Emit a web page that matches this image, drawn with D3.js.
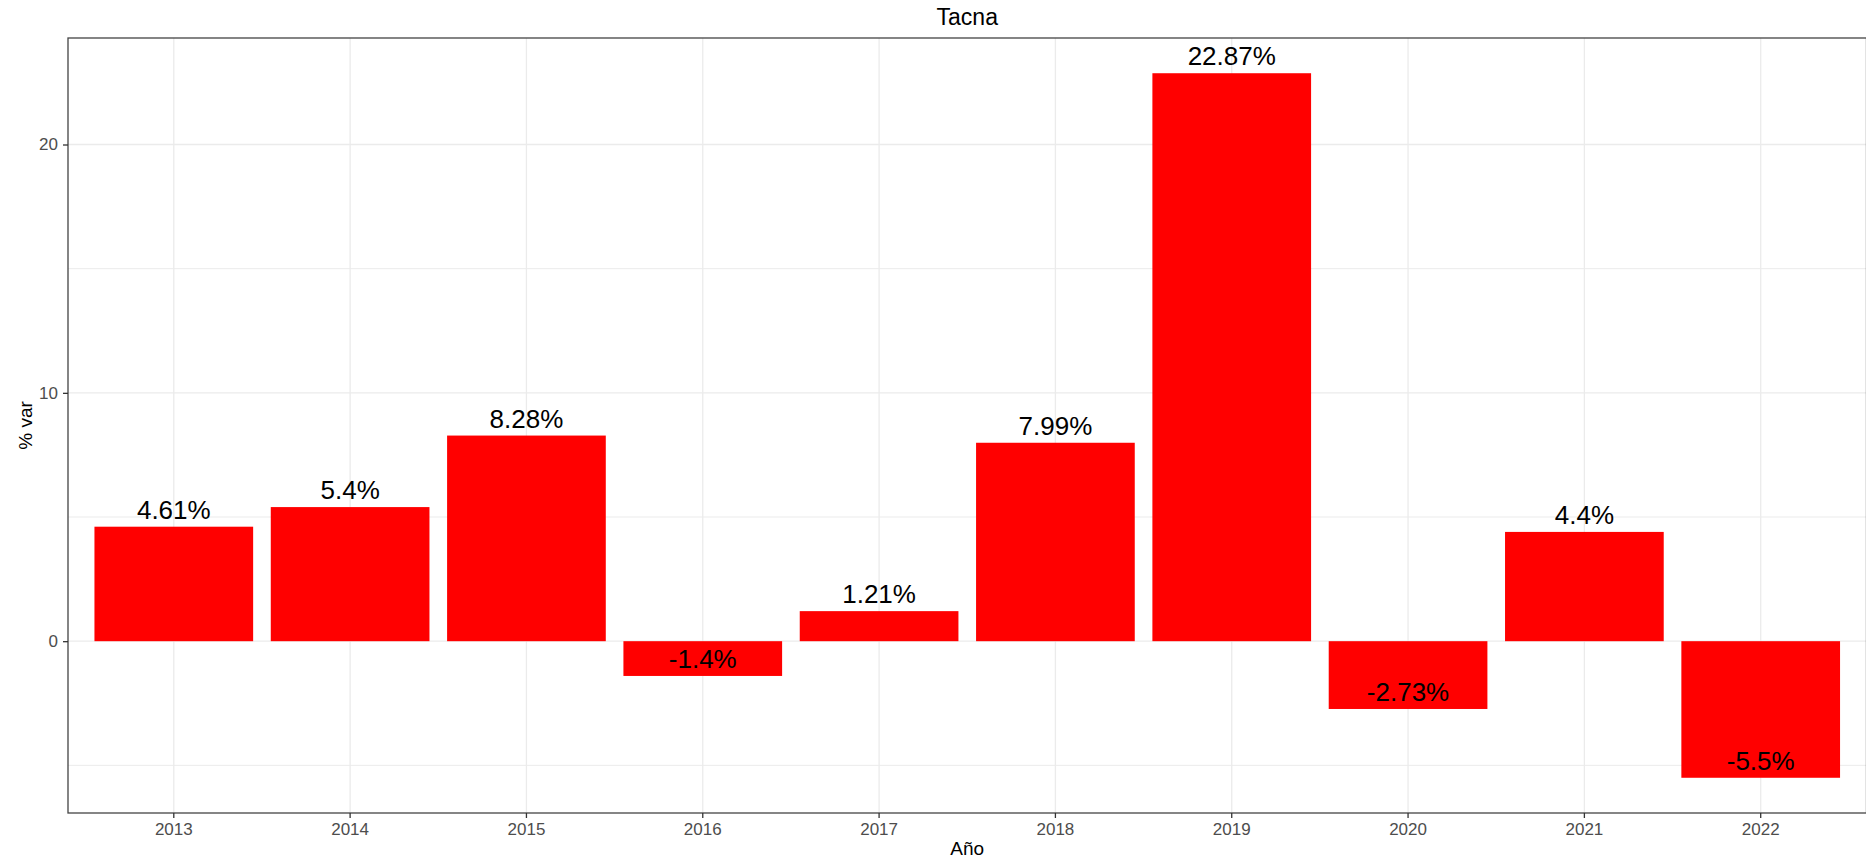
<!DOCTYPE html>
<html>
<head>
<meta charset="utf-8">
<script src="https://cdn.jsdelivr.net/npm/d3@7"></script>
<style>
  html, body { margin: 0; padding: 0; background: #fff; }
  svg { display: block; font-family: "Liberation Sans", Arial, sans-serif; }
</style>
</head>
<body>
<svg id="chart" width="1866" height="861"></svg>
<script>
const categories = ["2013","2014","2015","2016","2017","2018","2019","2020","2021","2022"];
const values = [4.61, 5.4, 8.28, -1.4, 1.21, 7.99, 22.87, -2.73, 4.4, -5.5];
const labels = ["4.61%","5.4%","8.28%","-1.4%","1.21%","7.99%","22.87%","-2.73%","4.4%","-5.5%"];
const yMajorTicks = [0, 10, 20];
const yMinorTicks = [-5, 5, 15];
const chartTitle = "Tacna";
const xTitle = "Año";
const yTitle = "% var";

const svg = d3.select("#chart");
const pLeft = 68, pRight = 1866.5, pTop = 38, pBottom = 813;

const dmin = d3.min(values), dmax = d3.max(values);
const pad = (dmax - dmin) * 0.05;
const y = d3.scaleLinear().domain([dmin - pad, dmax + pad]).range([pBottom, pTop]);
const x = d3.scaleBand().domain(categories).range([pLeft, pRight]).paddingInner(0.1).paddingOuter(0.15);

const grid = svg.append("g");
grid.selectAll(".minor").data(yMinorTicks).join("line")
  .attr("x1", pLeft).attr("x2", pRight)
  .attr("y1", d => y(d)).attr("y2", d => y(d))
  .attr("stroke", "#ebebeb").attr("stroke-width", 1);
grid.selectAll(".major").data(yMajorTicks).join("line")
  .attr("x1", pLeft).attr("x2", pRight)
  .attr("y1", d => y(d)).attr("y2", d => y(d))
  .attr("stroke", "#ebebeb").attr("stroke-width", 1.3);
grid.selectAll(".xmajor").data(categories).join("line")
  .attr("x1", d => x(d) + x.bandwidth()/2).attr("x2", d => x(d) + x.bandwidth()/2)
  .attr("y1", pTop).attr("y2", pBottom)
  .attr("stroke", "#ebebeb").attr("stroke-width", 1.3);

svg.append("g").selectAll("rect").data(values).join("rect")
  .attr("x", (d,i) => x(categories[i]))
  .attr("width", x.bandwidth())
  .attr("y", d => y(Math.max(0, d)))
  .attr("height", d => Math.abs(y(d) - y(0)))
  .attr("fill", "#ff0000");

svg.append("g").selectAll("text").data(values).join("text")
  .attr("x", (d,i) => x(categories[i]) + x.bandwidth()/2)
  .attr("y", d => y(d) - 8)
  .attr("text-anchor", "middle")
  .attr("font-size", 26)
  .attr("fill", "#000")
  .text((d,i) => labels[i]);

svg.append("rect").attr("x", pLeft).attr("y", pTop)
  .attr("width", pRight - pLeft).attr("height", pBottom - pTop)
  .attr("fill", "none").attr("stroke", "#444").attr("stroke-width", 1.3);

const xAxis = d3.axisBottom(x).tickSize(5).tickPadding(5);
const gx = svg.append("g").attr("transform", `translate(0,${pBottom})`).call(xAxis);
gx.select(".domain").remove();
gx.selectAll("line").attr("stroke", "#333").attr("stroke-width", 1.3);
gx.selectAll("text").attr("font-size", 17).attr("fill", "#4d4d4d")
  .attr("font-family", "Liberation Sans, Arial, sans-serif");

const yAxis = d3.axisLeft(y).tickValues(yMajorTicks).tickSize(5).tickPadding(5);
const gy = svg.append("g").attr("transform", `translate(${pLeft},0)`).call(yAxis);
gy.select(".domain").remove();
gy.selectAll("line").attr("stroke", "#333").attr("stroke-width", 1.3);
gy.selectAll("text").attr("font-size", 17).attr("fill", "#4d4d4d")
  .attr("font-family", "Liberation Sans, Arial, sans-serif");

svg.append("text").attr("x", (pLeft + pRight)/2).attr("y", 25)
  .attr("text-anchor", "middle").attr("font-size", 23).attr("fill", "#000").text(chartTitle);
svg.append("text").attr("x", (pLeft + pRight)/2).attr("y", 855)
  .attr("text-anchor", "middle").attr("font-size", 19).attr("fill", "#000").text(xTitle);
svg.append("text").attr("transform", `translate(32,${(pTop+pBottom)/2}) rotate(-90)`)
  .attr("text-anchor", "middle").attr("font-size", 19).attr("fill", "#000").text(yTitle);
</script>
</body>
</html>
